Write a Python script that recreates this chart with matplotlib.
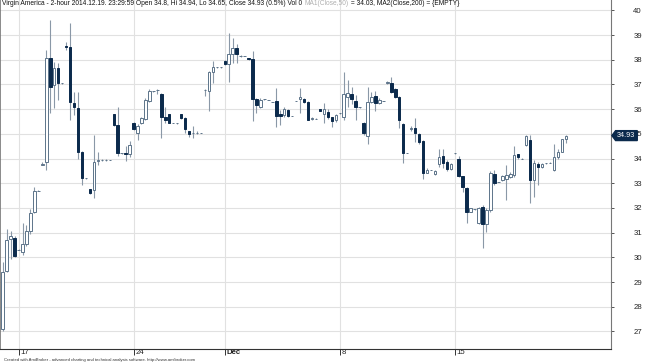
import matplotlib
matplotlib.use("Agg")
import matplotlib.pyplot as plt
import matplotlib.transforms as mtransforms
from matplotlib.patches import Polygon
import numpy as np

plt.rcParams['font.family'] = ['Liberation Sans', 'DejaVu Sans']

opens = [27.1, 29.45, 30.75, 30.8, 30.3, 30.23, 30.55, 31.05, 31.85, 32.7,
         33.75, 33.87, 38.08, 36.98, 37.68, 37.04, 38.55, 38.53, 36.23, 36.06,
         34.25, 33.2, 32.75, 32.72, 33.9, 33.94, 33.94, 33.94, 35.8, 35.34,
         34.21, 34.24, 34.17, 35.45, 35.02, 35.43, 35.59, 36.33, 36.73, 36.77,
         36.61, 35.69, 35.79, 35.43, 35.42, 35.79, 35.65, 35.1, 35.05, 35.04,
         35.04, 36.77, 36.74, 37.49, 37.69, 37.69, 37.96, 37.81, 38.22, 38.48,
         38.15, 38.15, 38.06, 38.02, 36.4, 36.1, 36.4, 36.38, 36.3, 36.33,
         35.8, 35.76, 35.96, 35.73, 36.34, 36.4, 36.4, 36.3, 35.6, 35.62,
         35.99, 35.8, 35.9, 35.69, 35.56, 35.83, 35.69, 36.5, 36.61, 36.34,
         36.07, 35.45, 34.91, 36.3, 36.53, 36.23, 36.34, 37.05, 37.07, 36.8,
         36.5, 35.38, 34.23, 35.18, 35.22, 34.99, 34.72, 33.43, 33.54, 33.37,
         33.78, 34.1, 33.87, 33.57, 34.21, 34.0, 33.28, 32.82, 31.85, 31.94,
         31.38, 32.02, 31.35, 31.91, 33.37, 33.06, 33.13, 33.16, 33.24, 33.33,
         34.18, 34.0, 34.55, 34.75, 33.13, 33.78, 33.64, 33.81, 33.84, 33.54,
         34.05, 34.28, 34.8]
highs = [29.8, 31.15, 31.05, 30.85, 30.32, 31.38, 31.3, 31.95, 32.86, 32.72,
         33.85, 38.4, 39.6, 37.9, 37.85, 37.06, 38.7, 39.47, 36.7, 36.68,
         34.3, 33.22, 32.78, 34.96, 34.28, 34.0, 34.0, 33.95, 35.82, 36.07,
         34.22, 34.5, 34.7, 35.5, 35.4, 35.7, 36.45, 36.8, 36.75, 36.8,
         36.65, 36.07, 35.82, 35.44, 35.43, 35.8, 35.7, 35.12, 35.3, 35.1,
         35.05, 36.8, 37.55, 37.96, 37.7, 37.7, 38.0, 39.09, 38.9, 38.63,
         38.2, 38.16, 38.08, 38.36, 36.45, 36.45, 36.41, 36.39, 36.31, 36.84,
         35.96, 36.1, 36.0, 35.74, 36.35, 36.84, 36.45, 36.35, 35.68, 35.63,
         36.0, 36.26, 36.0, 35.7, 35.8, 35.84, 37.51, 37.18, 36.9, 36.57,
         36.08, 35.5, 36.91, 36.7, 36.74, 36.45, 36.35, 37.15, 37.29, 36.85,
         36.55, 35.43, 34.24, 35.3, 35.63, 35.05, 34.75, 33.6, 33.55, 33.55,
         34.37, 34.4, 33.95, 33.82, 34.22, 34.1, 33.3, 32.85, 32.0, 31.95,
         32.05, 32.1, 31.98, 33.5, 33.52, 33.07, 33.35, 33.74, 33.45, 34.5,
         34.2, 34.01, 34.95, 34.95, 33.94, 33.87, 33.82, 33.82, 33.85, 34.61,
         34.4, 34.8, 34.94]
lows = [27.0, 29.4, 29.95, 30.0, 30.28, 30.1, 30.45, 30.95, 31.8, 32.68,
        33.75, 33.55, 35.83, 36.05, 36.37, 37.02, 38.4, 35.55, 35.76, 34.0,
        32.93, 33.18, 32.55, 32.41, 33.74, 33.9, 33.9, 33.93, 35.3, 34.1,
        34.2, 33.9, 34.05, 35.15, 34.75, 35.38, 35.55, 36.3, 36.71, 36.6,
        34.82, 35.45, 35.42, 35.42, 35.41, 35.6, 35.04, 34.86, 34.85, 35.0,
        35.03, 36.55, 35.94, 37.07, 37.68, 37.68, 37.8, 37.11, 37.85, 37.85,
        38.1, 38.14, 38.0, 35.53, 35.83, 36.05, 36.39, 36.37, 36.29, 35.26,
        35.36, 35.7, 35.7, 35.72, 36.33, 35.83, 36.25, 35.55, 35.58, 35.61,
        35.92, 35.43, 35.6, 35.29, 35.5, 35.82, 35.56, 36.07, 36.2, 35.56,
        36.06, 34.95, 34.59, 36.25, 35.93, 36.2, 36.33, 37.0, 36.66, 36.45,
        35.22, 33.81, 34.22, 35.1, 34.68, 34.6, 33.16, 33.4, 33.53, 33.35,
        33.67, 33.6, 33.5, 33.55, 34.2, 33.25, 32.65, 31.38, 31.82, 31.93,
        31.35, 30.38, 31.04, 31.85, 32.95, 33.05, 33.1, 32.32, 33.2, 33.26,
        34.0, 33.99, 34.5, 32.19, 32.45, 32.93, 33.6, 33.8, 33.83, 33.5,
        34.0, 34.25, 34.65]
closes = [29.4, 30.7, 30.85, 30.05, 30.3, 30.53, 31.05, 31.8, 32.7, 32.7,
          33.8, 38.06, 36.9, 37.65, 37.04, 37.04, 38.5, 36.28, 36.1, 34.25,
          33.22, 33.2, 32.59, 33.87, 33.95, 33.94, 33.94, 33.94, 35.34, 34.21,
          34.21, 34.17, 34.55, 35.18, 35.32, 35.63, 36.37, 36.73, 36.73, 36.77,
          35.67, 35.56, 35.45, 35.43, 35.42, 35.65, 35.18, 35.0, 35.05, 35.04,
          35.04, 36.77, 37.49, 37.69, 37.69, 37.69, 37.83, 38.23, 38.46, 38.22,
          38.15, 38.15, 38.02, 36.4, 36.17, 36.37, 36.4, 36.38, 36.3, 35.73,
          35.73, 35.99, 35.73, 35.73, 36.34, 36.48, 36.3, 35.58, 35.65, 35.62,
          35.93, 35.99, 35.69, 35.53, 35.76, 35.83, 36.61, 36.66, 36.4, 36.07,
          36.07, 35.02, 36.3, 36.5, 36.23, 36.37, 36.34, 37.08, 36.7, 36.5,
          35.56, 34.23, 34.23, 35.25, 35.02, 34.68, 33.43, 33.54, 33.54, 33.51,
          34.07, 33.81, 33.57, 33.78, 34.21, 33.3, 32.85, 31.85, 31.98, 31.94,
          31.98, 31.35, 31.91, 33.41, 33.01, 33.06, 33.29, 33.33, 33.37, 34.14,
          34.05, 34.0, 34.91, 33.13, 33.81, 33.67, 33.78, 33.81, 33.84, 34.05,
          34.28, 34.78, 34.93]

x_tick_bars = [4, 33, 56, 85, 114]
x_tick_labels = ["17", "24", "Dec", "8", "15"]
y_ticks = list(range(27, 41))

title_main = ("Virgin America - 2-hour 2014.12.19. 23:29:59 Open 34.8, Hi 34.94, "
              "Lo 34.65, Close 34.93 (0.5%) Vol 0 ")
title_ma1 = "MA1(Close,50)"
title_rest = " = 34.03, MA2(Close,200) = {EMPTY}"
footer = ("Created with AmiBroker - advanced charting and technical analysis "
          "software. http://www.amibroker.com")

W, H = 645, 364
fig = plt.figure(figsize=(W / 100, H / 100), dpi=100)
ax = fig.add_axes([0, 15 / H, 611 / W, 349 / H])

navy = "#0b2a4c"
up_edge = "#5d748a"
wick_c = "#8a98a7"
grid_c = "#e1e1e1"

o = np.array(opens); h = np.array(highs); l = np.array(lows); c = np.array(closes)
idx = np.arange(len(o))
up = c >= o
bw = 0.62

ax.vlines(idx, l, h, color=wick_c, lw=0.8, zorder=2)
bot = np.minimum(o, c)
hgt = np.abs(c - o)
ax.bar(idx[up], hgt[up], bottom=bot[up], width=bw, color="white",
       edgecolor=up_edge, linewidth=0.7, zorder=3)
ax.bar(idx[~up], hgt[~up], bottom=bot[~up], width=bw, color=navy,
       edgecolor=navy, linewidth=0.7, zorder=3)

ax.set_xlim(-0.68, 153.4)
ax.set_ylim(26.29, 40.42)

ax.set_yticks(y_ticks)
ax.yaxis.tick_right()
ax.tick_params(axis='y', direction='out', length=2, width=0.7, color="#555555",
               labelsize=5.6, pad=14, labelcolor="#222222")
ax.set_xticks(x_tick_bars)
ax.set_xticklabels(x_tick_labels)
for lab in ax.get_xticklabels():
    lab.set_horizontalalignment('left')
    if lab.get_text() == "Dec":
        lab.set_fontweight('bold')
ax.tick_params(axis='x', direction='out', length=4.3, width=0.7, color="#333333",
               labelsize=5.6, pad=-4.1, labelcolor="#222222")
offset = mtransforms.ScaledTranslation(1.8 / 100, 0, fig.dpi_scale_trans)
for lab in ax.get_xticklabels():
    lab.set_transform(lab.get_transform() + offset)

ax.grid(True, color=grid_c, lw=0.8, zorder=0)
ax.set_axisbelow(True)
ax.spines['top'].set_visible(False)
ax.spines['left'].set_color("#777777")
ax.spines['left'].set_linewidth(1.2)
ax.spines['right'].set_color("#777777")
ax.spines['right'].set_linewidth(0.8)
ax.spines['bottom'].set_color("#333333")
ax.spines['bottom'].set_linewidth(0.8)

# title pieces
fs_t = 4.75
t1 = ax.text(0.004, 0.999, title_main, transform=ax.transAxes, fontsize=fs_t,
             va='top', ha='left', color="#111111")
fig.canvas.draw()
inv = ax.transAxes.inverted()
bb = t1.get_window_extent()
x2 = inv.transform((bb.x1, bb.y1))[0]
t2 = ax.text(x2, 0.999, title_ma1, transform=ax.transAxes, fontsize=fs_t,
             va='top', ha='left', color="#b0b0b0")
fig.canvas.draw()
bb2 = t2.get_window_extent()
x3 = inv.transform((bb2.x1, bb2.y1))[0]
ax.text(x3, 0.999, title_rest, transform=ax.transAxes, fontsize=fs_t,
        va='top', ha='left', color="#111111")

fig.text(4 / W, 4.5 / H, footer, fontsize=3.1, color="#333333", va='center', ha='left')

# last price marker
last = closes[-1]
trans = mtransforms.blended_transform_factory(ax.transAxes, ax.transData)
dy = 0.2
poly = Polygon([(1.0015, last), (1.0075, last + dy), (1.043, last + dy),
                (1.043, last - dy), (1.0075, last - dy)], closed=True,
               transform=trans, facecolor=navy, edgecolor=navy, clip_on=False, zorder=10)
ax.add_patch(poly)
ax.text(1.025, last, f"{last:.2f}", transform=trans, fontsize=5.2, color="white",
        ha='center', va='center', zorder=11, clip_on=False)

fig.savefig("out.png", dpi=100, facecolor="white")
